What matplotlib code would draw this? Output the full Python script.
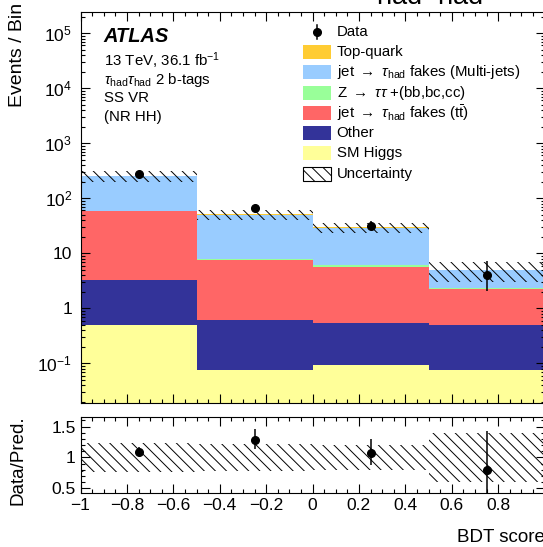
import matplotlib
matplotlib.use("Agg")
import numpy as np
import matplotlib.pyplot as plt
from matplotlib.patches import Rectangle
from matplotlib.lines import Line2D
from matplotlib.ticker import MultipleLocator, LogLocator, FuncFormatter, NullFormatter, FixedLocator

# --- style (ROOT / ATLAS look) ---
plt.rcParams.update({
    "font.family": ["Liberation Sans", "DejaVu Sans"],
    "mathtext.fontset": "custom",
    "mathtext.rm": "Liberation Sans",
    "mathtext.it": "Liberation Sans:italic",
    "mathtext.bf": "Liberation Sans:bold",
    "axes.linewidth": 0.8,
    "hatch.linewidth": 0.7,
    "xtick.direction": "in",
    "ytick.direction": "in",
    "xtick.top": True,
    "ytick.right": True,
})

HATCH = "\\\\\\"

# --- data ---
bin_edges = [-1.0, -0.5, 0.0, 0.5, 1.0]
sm_higgs = [0.49, 0.074, 0.092, 0.075]
other = [2.81, 0.53, 0.45, 0.42]
ttbar_fakes = [54.7, 6.86, 5.12, 1.79]
ztautau_hf = [0.8, 0.45, 0.49, 0.10]
multijet_fakes = [192.0, 42.7, 22.9, 2.6]
top_quark = [7.0, 0.6, 0.8, 0.05]
bkg_rel_unc = [0.24, 0.22, 0.21, 0.40]
data_counts = [282, 66, 32, 4]
data_err_lo = [16.3, 8.1, 5.6, 1.91]
data_err_hi = [17.8, 9.2, 6.7, 3.16]
log_ticks = [1e-1, 1, 10, 1e2, 1e3, 1e4, 1e5]

LBL_TT = r"jet $\rightarrow$ $\tau_{\mathrm{had}}$ fakes ($\mathrm{t\bar{t}}$)"
LBL_Z = r"Z $\rightarrow$ $\tau\tau$ +(bb,bc,cc)"
LBL_MJ = r"jet $\rightarrow$ $\tau_{\mathrm{had}}$ fakes (Multi-jets)"

# stack from bottom to top
stack = [
    (sm_higgs, "#ffff99", "SM Higgs"),
    (other, "#333399", "Other"),
    (ttbar_fakes, "#ff6666", LBL_TT),
    (ztautau_hf, "#99ff99", LBL_Z),
    (multijet_fakes, "#99ccff", LBL_MJ),
    (top_quark, "#ffcc33", "Top-quark"),
]
colors = {label: color for _, color, label in stack}

edges = np.array(bin_edges)
lefts = edges[:-1]
widths = np.diff(edges)
centers = lefts + widths / 2

fig = plt.figure(figsize=(5.43, 5.47), dpi=100)
ax = fig.add_axes([0.1483, 0.2633, 0.8545, 0.7148])
rax = fig.add_axes([0.1483, 0.0993, 0.8545, 0.1389], sharex=ax)

ax.set_yscale("log")

bottom = np.zeros(len(lefts))
for vals, color, label in stack:
    vals = np.array(vals)
    ax.bar(lefts, vals, width=widths, bottom=bottom, align="edge",
           color=color, linewidth=0)
    bottom = bottom + vals
total = bottom

unc = np.array(bkg_rel_unc)
ax.bar(lefts, 2 * unc * total, width=widths, bottom=total * (1 - unc), align="edge",
       fill=False, hatch=HATCH, edgecolor="black", linewidth=0)

data = np.array(data_counts, dtype=float)
ax.errorbar(centers, data, yerr=[data_err_lo, data_err_hi], fmt="o", color="black",
            ms=5.5, elinewidth=1.1, capsize=0, zorder=5)

ax.set_xlim(-1, 1)
ax.set_ylim(0.019, 2.44e5)


def log_label(v, pos):
    e = int(round(np.log10(v)))
    if e == 0:
        return "1"
    if e == 1:
        return "10"
    return r"$10^{%d}$" % e


def x_label(v, pos):
    if v > 0.99:
        return ""
    return f"{round(v, 2) + 0:g}".replace("-", "\u2212")


ax.yaxis.set_major_locator(FixedLocator(log_ticks))
ax.yaxis.set_minor_locator(LogLocator(base=10, subs=np.arange(2, 10), numticks=100))
ax.yaxis.set_major_formatter(FuncFormatter(log_label))
ax.yaxis.set_minor_formatter(NullFormatter())
ax.xaxis.set_major_locator(MultipleLocator(0.2))
ax.xaxis.set_minor_locator(MultipleLocator(0.05))
ax.tick_params(axis="x", labelbottom=False)
for a in (ax, rax):
    a.tick_params(which="major", length=6.5, width=0.8, labelsize=12.5)
    a.tick_params(which="minor", length=3.2, width=0.8)
ax.tick_params(axis="y", which="major", pad=6)

# legend, laid out row by row (ROOT style, even spacing)
leg_x0, leg_w, leg_h = 302.7, 28.0, 14.0      # pixels
leg_y0, leg_dy = 31.7, 20.3
ax_l, ax_t, ax_w, ax_h = 80.5, 12.0, 464.0, 391.0


def px2ax(x, y):
    return (x - ax_l) / ax_w, 1 - (y - ax_t) / ax_h


rows = ["Data", "Top-quark", LBL_MJ, LBL_Z, LBL_TT, "Other", "SM Higgs", "Uncertainty"]
for i, label in enumerate(rows):
    yc = leg_y0 + i * leg_dy
    if label == "Data":
        xm, ym = px2ax(leg_x0 + leg_w / 2, yc)
        _, y1 = px2ax(0, yc - leg_h / 2)
        _, y2 = px2ax(0, yc + leg_h / 2)
        ax.add_line(Line2D([xm, xm], [y1, y2], color="black", lw=1.1, transform=ax.transAxes))
        ax.add_line(Line2D([xm], [ym], marker="o", ms=5.5, color="black", transform=ax.transAxes))
    else:
        x0, y0 = px2ax(leg_x0, yc + leg_h / 2)
        if label == "Uncertainty":
            rect = Rectangle((x0, y0), leg_w / ax_w, leg_h / ax_h, transform=ax.transAxes,
                             facecolor="none", edgecolor="black", hatch=HATCH, lw=0.8)
        else:
            rect = Rectangle((x0, y0), leg_w / ax_w, leg_h / ax_h, transform=ax.transAxes,
                             facecolor=colors[label], edgecolor="none")
        ax.add_patch(rect)
    tx, ty = px2ax(336.7, yc)
    ax.text(tx, ty, label, transform=ax.transAxes, fontsize=10.8, va="center", ha="left")

# ATLAS label block
ax.text(0.0496, 0.9368, "ATLAS", transform=ax.transAxes, fontsize=14.4,
        fontweight="bold", fontstyle="italic", va="center")
info = ["13 TeV, 36.1 fb$^{\\mathrm{-1}}$",
        r"$\tau_{\mathrm{had}}\tau_{\mathrm{had}}$ 2 b-tags",
        "SS VR", "(NR HH)"]
info_y = [0.8754, 0.826, 0.780, 0.732]
for s, y in zip(info, info_y):
    ax.text(0.0496, y, s, transform=ax.transAxes, fontsize=10.8, va="center")

# ratio panel
ratio = data / total
r_lo = np.array(data_err_lo) / total
r_hi = np.array(data_err_hi) / total
rax.bar(lefts, 2 * unc, width=widths, bottom=1 - unc, align="edge",
        fill=False, hatch=HATCH, edgecolor="black", linewidth=0)
rax.errorbar(centers, ratio, yerr=[r_lo, r_hi], fmt="o", color="black",
             ms=5.5, elinewidth=1.1, capsize=0, zorder=5)
rax.set_ylim(0.43, 1.66)
rax.yaxis.set_major_locator(FixedLocator([0.5, 1.0, 1.5]))
rax.yaxis.set_major_formatter(FuncFormatter(lambda v, p: f"{v:g}"))
rax.yaxis.set_minor_locator(MultipleLocator(0.1))
rax.xaxis.set_major_formatter(FuncFormatter(x_label))

# axis titles
fig.text(18 / 543, 1 - 3 / 547, "Events / Bin", rotation=90, ha="center", va="top", fontsize=14)
fig.text(18 / 543, 1 - 460 / 547, "Data/Pred.", rotation=90, ha="center", va="center", fontsize=13.5)
fig.text(544.5 / 543, 1 - 537 / 547, "BDT score", ha="right", va="center", fontsize=13.5)
# title, mostly above the visible area
fig.text(423 / 543, 1 + 1.5 / 547, r"$\tau_{\mathrm{had}}\tau_{\mathrm{had}}$", ha="center",
         va="baseline", fontsize=28)

fig.savefig("out.png", dpi=100)
